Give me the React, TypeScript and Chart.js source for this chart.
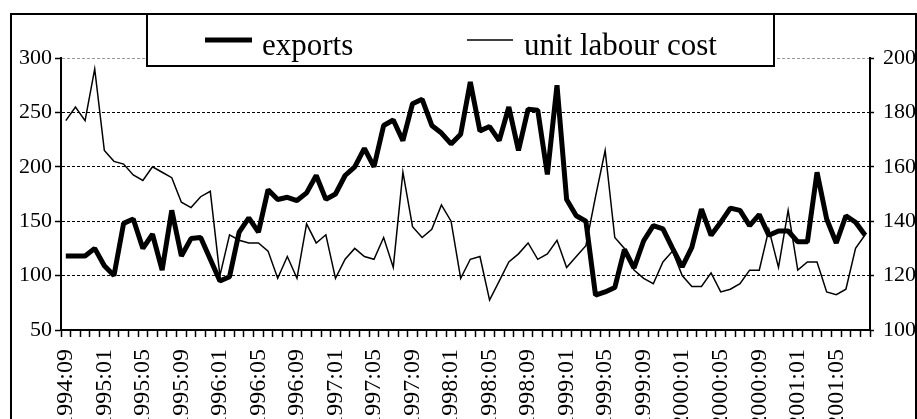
import React, { useEffect, useRef } from "react";
import { Chart, registerables } from "chart.js";

Chart.register(...registerables);

const months: string[] = [
  "1994:09", "1994:10", "1994:11", "1994:12",
  "1995:01", "1995:02", "1995:03", "1995:04", "1995:05", "1995:06", "1995:07", "1995:08", "1995:09", "1995:10", "1995:11", "1995:12",
  "1996:01", "1996:02", "1996:03", "1996:04", "1996:05", "1996:06", "1996:07", "1996:08", "1996:09", "1996:10", "1996:11", "1996:12",
  "1997:01", "1997:02", "1997:03", "1997:04", "1997:05", "1997:06", "1997:07", "1997:08", "1997:09", "1997:10", "1997:11", "1997:12",
  "1998:01", "1998:02", "1998:03", "1998:04", "1998:05", "1998:06", "1998:07", "1998:08", "1998:09", "1998:10", "1998:11", "1998:12",
  "1999:01", "1999:02", "1999:03", "1999:04", "1999:05", "1999:06", "1999:07", "1999:08", "1999:09", "1999:10", "1999:11", "1999:12",
  "2000:01", "2000:02", "2000:03", "2000:04", "2000:05", "2000:06", "2000:07", "2000:08", "2000:09", "2000:10", "2000:11", "2000:12",
  "2001:01", "2001:02", "2001:03", "2001:04", "2001:05", "2001:06", "2001:07", "2001:08",
];

// left axis (50–300)
const exportsSeries: number[] = [
  118, 118, 118, 125, 109, 100, 148, 152, 125, 138, 105, 160, 118, 134, 135, 115,
  95, 99, 140, 153, 140, 179, 170, 172, 169, 176, 192, 170,
  175, 192, 200, 217, 200, 238, 243, 224, 258, 262, 238, 231,
  221, 230, 278, 233, 237, 224, 255, 215, 253, 252, 193, 275,
  170, 155, 150, 82, 85, 89, 124, 107, 132, 146, 143, 125,
  108, 126, 161, 137, 149, 162, 160, 146, 156, 137, 141, 141,
  131, 131, 195, 152, 130, 155, 149, 137,
];

// right axis (100–200)
const unitLabourCost: number[] = [
  177, 182, 177, 196, 166, 162, 161, 157, 155, 160, 158, 156, 147, 145, 149, 151,
  120, 135, 133, 132, 132, 129, 119, 127, 119, 139, 132, 135,
  119, 126, 130, 127, 126, 134, 123, 158, 138, 134, 137, 146,
  140, 119, 126, 127, 111, 118, 125, 128, 132, 126, 128, 133,
  123, 127, 131, 149, 166, 134, 130, 122, 119, 117, 125, 129,
  120, 116, 116, 121, 114, 115, 117, 122, 122, 137, 123, 144,
  122, 125, 125, 114, 113, 115, 130, 135,
];

const leftMin = 50;
const leftMax = 300;
const leftStep = 50;
const rightMin = 100;
const rightMax = 200;
const rightStep = 20;

const seriesNames = ["exports", "unit labour cost"];

const SERIF = "'Liberation Serif', 'Times New Roman', serif";

const framePlugin = {
  id: "frameAndLegend",
  beforeDraw(chart: any) {
    const ctx = chart.ctx;
    ctx.save();
    ctx.fillStyle = "#ffffff";
    ctx.fillRect(0, 0, chart.width, chart.height);
    ctx.restore();
  },
  afterDraw(chart: any) {
    const ctx = chart.ctx;
    ctx.save();
    // outer frame
    ctx.strokeStyle = "#000";
    ctx.lineWidth = 2;
    ctx.strokeRect(11, 14, 905, 430);
    // legend box
    ctx.fillStyle = "#fff";
    ctx.fillRect(147, 14, 627, 52);
    ctx.strokeRect(147, 14, 627, 52);
    const ds = chart.data.datasets;
    const items = [
      { x1: 205, x2: 252, tx: 262, w: ds[0].borderWidth, label: ds[0].label },
      { x1: 467, x2: 513, tx: 524, w: ds[1].borderWidth, label: ds[1].label },
    ];
    ctx.font = `31px ${SERIF}`;
    ctx.textBaseline = "alphabetic";
    ctx.textAlign = "left";
    for (const it of items) {
      ctx.beginPath();
      ctx.lineWidth = it.w;
      ctx.strokeStyle = "#000";
      ctx.moveTo(it.x1, 40);
      ctx.lineTo(it.x2, 40);
      ctx.stroke();
      ctx.fillStyle = "#000";
      ctx.fillText(it.label, it.tx, 55);
    }
    ctx.restore();
  },
};

export default function App() {
  const ref = useRef<HTMLCanvasElement | null>(null);

  useEffect(() => {
    if (!ref.current) return;
    const chart = new Chart(ref.current, {
      type: "line",
      data: {
        labels: months,
        datasets: [
          {
            label: seriesNames[0],
            data: exportsSeries,
            yAxisID: "y",
            borderColor: "#000",
            backgroundColor: "#000",
            borderWidth: 5,
            pointRadius: 0,
            tension: 0,
            borderJoinStyle: "bevel",
          },
          {
            label: seriesNames[1],
            data: unitLabourCost,
            yAxisID: "y1",
            borderColor: "#000",
            backgroundColor: "#000",
            borderWidth: 1.5,
            pointRadius: 0,
            tension: 0,
          },
        ],
      },
      options: {
        animation: false,
        responsive: false,
        maintainAspectRatio: false,
        layout: { padding: { top: 58, left: 0, right: 0, bottom: 0 } },
        plugins: {
          legend: { display: false },
          tooltip: { enabled: false },
          title: { display: false },
        },
        scales: {
          x: {
            type: "category",
            offset: true,
            grid: {
              offset: true,
              drawOnChartArea: false,
              drawTicks: true,
              tickLength: 7,
              tickWidth: 1.5,
              tickColor: "#000",
            },
            border: { display: true, color: "#000", width: 2 },
            ticks: {
              autoSkip: false,
              maxRotation: 90,
              minRotation: 90,
              padding: 12,
              color: "#000",
              font: { family: SERIF, size: 24 },
              callback: (_v: any, i: number) => (i % 4 === 0 ? months[i] : ""),
            },
            afterFit: (s: any) => {
              s.height = 89;
            },
          },
          y: {
            position: "left",
            min: leftMin,
            max: leftMax,
            ticks: {
              stepSize: leftStep,
              padding: 3,
              color: "#000",
              font: { family: SERIF, size: 22 },
            },
            grid: {
              color: (c: any) => (c.tick && c.tick.value === leftMax ? "#9a9a9a" : "#000"),
              lineWidth: 1,
              tickLength: 6,
              tickColor: "#000",
              tickWidth: 1.5,
            },
            border: { display: true, color: "#000", width: 2, dash: [3, 2] },
            afterFit: (s: any) => {
              s.width = 61;
            },
          },
          y1: {
            position: "right",
            min: rightMin,
            max: rightMax,
            ticks: {
              stepSize: rightStep,
              padding: 9,
              color: "#000",
              font: { family: SERIF, size: 22 },
            },
            grid: {
              drawOnChartArea: false,
              tickLength: 4,
              tickColor: "#000",
              tickWidth: 1.5,
            },
            border: { display: true, color: "#000", width: 2 },
            afterFit: (s: any) => {
              s.width = 47;
            },
          },
        },
      },
      plugins: [framePlugin],
    });
    return () => chart.destroy();
  }, []);

  return (
    <div style={{ position: "absolute", left: 0, top: 0, width: 917, height: 419 }}>
      <canvas ref={ref} width={917} height={419} />
    </div>
  );
}
